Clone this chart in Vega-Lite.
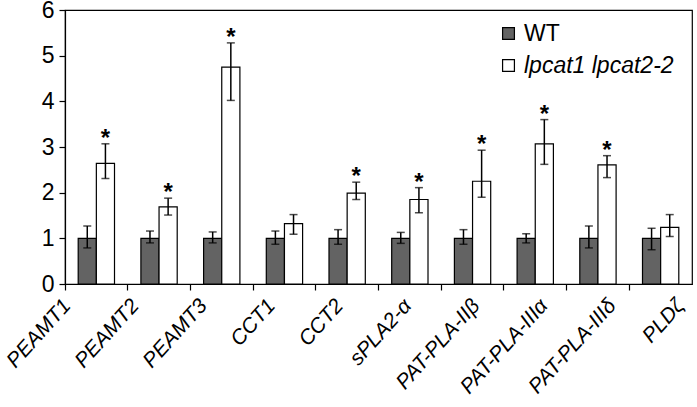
{
  "$schema": "https://vega.github.io/schema/vega-lite/v6.json",
  "autosize": "none",
  "padding": {"left": 65, "top": 10, "right": 5, "bottom": 123},
  "width": 627,
  "height": 274,
  "background": "white",
  "config": {
    "font": "Liberation Sans",
    "view": {"stroke": "black", "strokeWidth": 1.2},
    "axis": {"domainColor": "black", "tickColor": "black", "labelColor": "black", "titleColor": "black", "grid": false, "domainWidth": 1.2, "tickWidth": 1.2},
    "axisY": {"title": "Relative transcript level", "titleFontSize": 27, "titleFontWeight": "normal", "titleX": -39, "titleY": 152, "titleAngle": -90, "titleBaseline": "bottom", "titleAlign": "center", "labelFontSize": 23, "values": [0,1,2,3,4,5,6], "labelOverlap": false, "tickSize": 6, "labelPadding": 5}
  },
  "data": {"values": [
    {"gene": "PEAMT1", "genotype": "WT", "value": 1.0, "lo": 0.79, "hi": 1.27, "sig": ""},
    {"gene": "PEAMT1", "genotype": "lpcat1 lpcat2-2", "value": 2.64, "lo": 2.31, "hi": 3.07, "sig": "*"},
    {"gene": "PEAMT2", "genotype": "WT", "value": 1.0, "lo": 0.90, "hi": 1.16, "sig": ""},
    {"gene": "PEAMT2", "genotype": "lpcat1 lpcat2-2", "value": 1.69, "lo": 1.51, "hi": 1.88, "sig": "*"},
    {"gene": "PEAMT3", "genotype": "WT", "value": 1.0, "lo": 0.90, "hi": 1.14, "sig": ""},
    {"gene": "PEAMT3", "genotype": "lpcat1 lpcat2-2", "value": 4.75, "lo": 4.02, "hi": 5.28, "sig": "*"},
    {"gene": "CCT1", "genotype": "WT", "value": 1.0, "lo": 0.87, "hi": 1.16, "sig": ""},
    {"gene": "CCT1", "genotype": "lpcat1 lpcat2-2", "value": 1.32, "lo": 1.09, "hi": 1.52, "sig": ""},
    {"gene": "CCT2", "genotype": "WT", "value": 1.0, "lo": 0.87, "hi": 1.19, "sig": ""},
    {"gene": "CCT2", "genotype": "lpcat1 lpcat2-2", "value": 1.99, "lo": 1.85, "hi": 2.23, "sig": "*"},
    {"gene": "sPLA2-α", "genotype": "WT", "value": 1.0, "lo": 0.89, "hi": 1.13, "sig": ""},
    {"gene": "sPLA2-α", "genotype": "lpcat1 lpcat2-2", "value": 1.85, "lo": 1.56, "hi": 2.11, "sig": "*"},
    {"gene": "PAT-PLA-IIβ", "genotype": "WT", "value": 1.0, "lo": 0.87, "hi": 1.19, "sig": ""},
    {"gene": "PAT-PLA-IIβ", "genotype": "lpcat1 lpcat2-2", "value": 2.25, "lo": 1.90, "hi": 2.93, "sig": "*"},
    {"gene": "PAT-PLA-IIIα", "genotype": "WT", "value": 1.0, "lo": 0.90, "hi": 1.10, "sig": ""},
    {"gene": "PAT-PLA-IIIα", "genotype": "lpcat1 lpcat2-2", "value": 3.07, "lo": 2.62, "hi": 3.60, "sig": "*"},
    {"gene": "PAT-PLA-IIIδ", "genotype": "WT", "value": 1.0, "lo": 0.79, "hi": 1.27, "sig": ""},
    {"gene": "PAT-PLA-IIIδ", "genotype": "lpcat1 lpcat2-2", "value": 2.61, "lo": 2.33, "hi": 2.81, "sig": "*"},
    {"gene": "PLDζ", "genotype": "WT", "value": 1.0, "lo": 0.75, "hi": 1.22, "sig": ""},
    {"gene": "PLDζ", "genotype": "lpcat1 lpcat2-2", "value": 1.24, "lo": 1.04, "hi": 1.52, "sig": ""}
  ]},
  "encoding": {
    "x": {
      "field": "gene", "type": "nominal", "sort": null,
      "scale": {"paddingInner": 0, "paddingOuter": 0},
      "axis": {"title": null, "labelAngle": -48, "labelFontSize": 21, "labelFontStyle": "italic", "bandPosition": 0, "tickSize": 6, "labelPadding": 12, "labelOverlap": false,
        "labelOffset": {"expr": "-29 + 49 * indexof(['PEAMT1','PEAMT2','PEAMT3','CCT1','CCT2','sPLA2-α','PAT-PLA-IIβ','PAT-PLA-IIIα','PAT-PLA-IIIδ','PLDζ'], datum.value) / 9"}}
    },
    "xOffset": {
      "field": "genotype", "type": "nominal", "sort": ["WT", "lpcat1 lpcat2-2"],
      "scale": {"paddingInner": 0, "paddingOuter": 0.727}
    }
  },
  "layer": [
    {
      "mark": {"type": "bar", "stroke": "black", "strokeWidth": 1.2},
      "encoding": {
        "y": {"field": "value", "type": "quantitative", "scale": {"domain": [0, 6]}},
        "fill": {
          "field": "genotype", "type": "nominal", "sort": ["WT", "lpcat1 lpcat2-2"],
          "scale": {"domain": ["WT", "lpcat1 lpcat2-2"], "range": ["#636363", "#ffffff"]},
          "legend": {
            "title": null, "orient": "none", "legendX": 432, "legendY": 12,
            "symbolType": "square", "symbolSize": 140, "symbolStrokeColor": "black", "symbolStrokeWidth": 1.2,
            "labelFontSize": 23, "labelColor": "black", "rowPadding": 8, "padding": 0,
            "encode": {"labels": {"update": {"fontStyle": {"signal": "datum.label == 'WT' ? 'normal' : 'italic'"}}}}
          }
        }
      }
    },
    {
      "mark": {"type": "rule", "color": "black", "strokeWidth": 1.5},
      "encoding": {"y": {"field": "lo", "type": "quantitative"}, "y2": {"field": "hi"}}
    },
    {
      "mark": {"type": "tick", "color": "black", "thickness": 1.5, "size": 8},
      "encoding": {"y": {"field": "lo", "type": "quantitative"}}
    },
    {
      "mark": {"type": "tick", "color": "black", "thickness": 1.5, "size": 8},
      "encoding": {"y": {"field": "hi", "type": "quantitative"}}
    },
    {
      "mark": {"type": "text", "fontSize": 24, "fontWeight": "bold", "baseline": "alphabetic", "dy": 2, "color": "black"},
      "encoding": {"y": {"field": "hi", "type": "quantitative"}, "text": {"field": "sig"}}
    }
  ]
}
